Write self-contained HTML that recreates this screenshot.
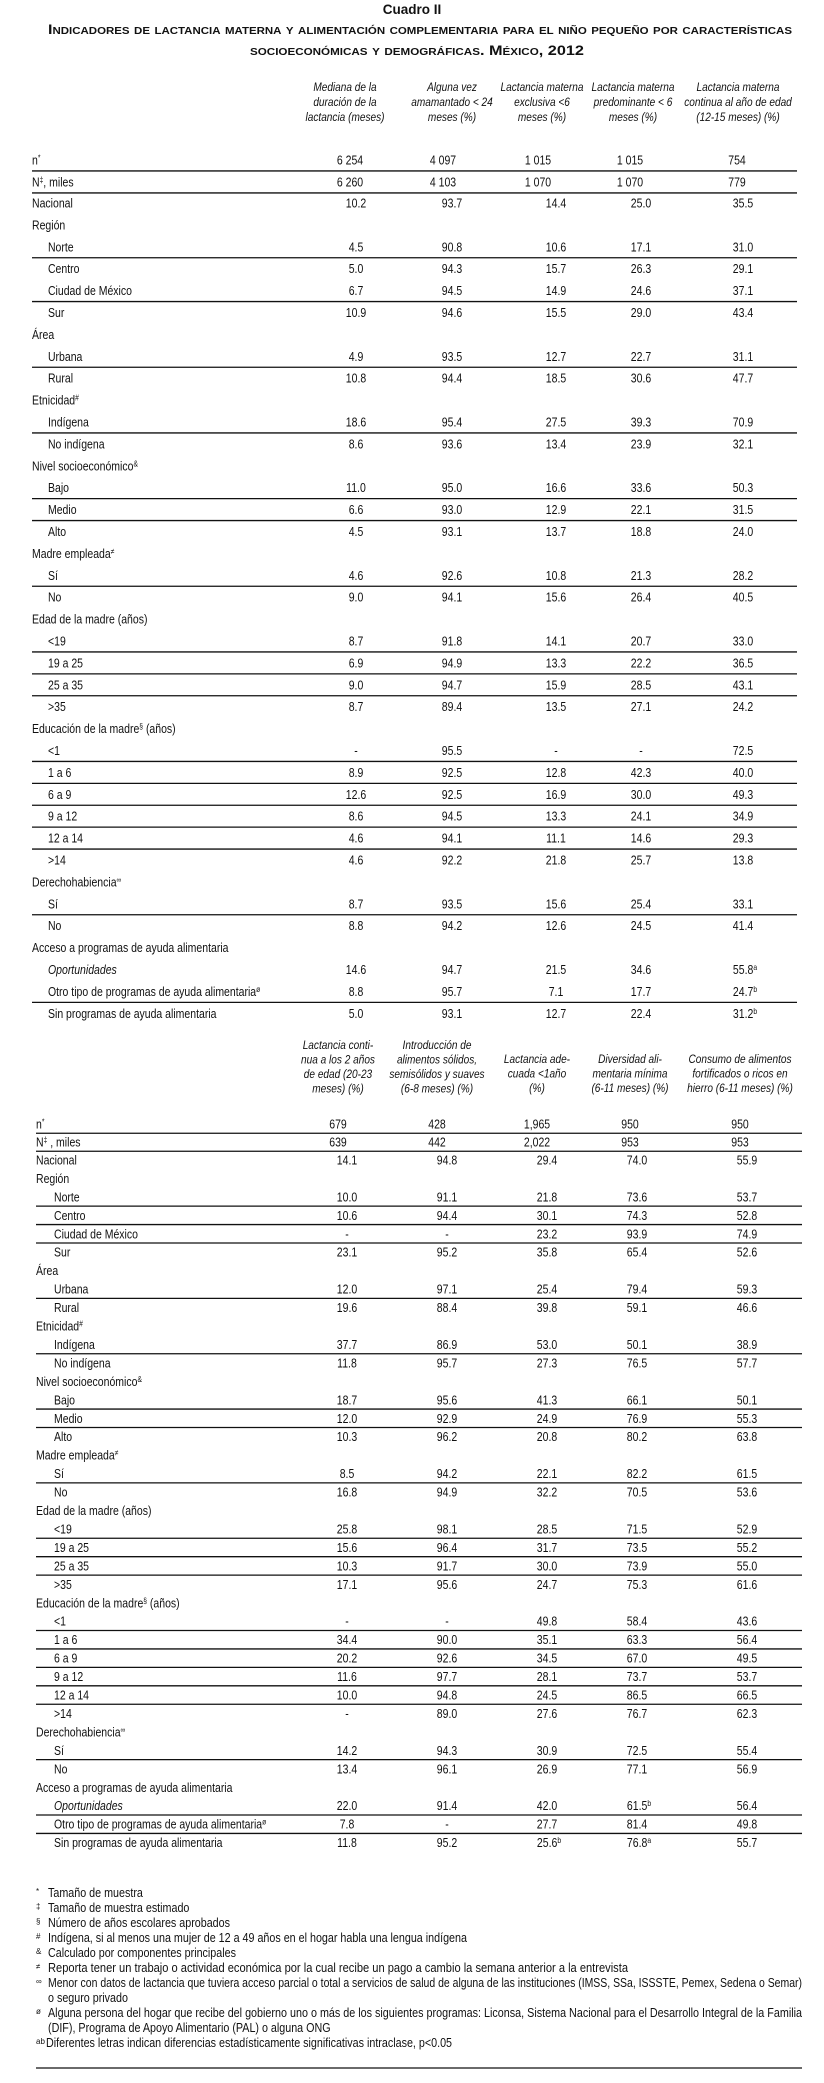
<!DOCTYPE html>
<html><head><meta charset="utf-8">
<style>
html,body{margin:0;padding:0;background:#fff;}
svg{display:block;}
text{font-family:"Liberation Sans",sans-serif;fill:#111;}
.b{font-size:12.5px;}
.h{font-size:12px;font-style:italic;}
.f{font-size:12.5px;}
</style></head>
<body>
<svg id="page" width="824" height="2083" viewBox="0 0 824 2083" xmlns="http://www.w3.org/2000/svg">
<text x="412" y="14" text-anchor="middle" font-size="13.5" font-weight="bold">Cuadro II</text>
<text x="420" y="34" text-anchor="middle" font-size="14" font-weight="bold" style="font-variant:small-caps" textLength="744" lengthAdjust="spacingAndGlyphs">Indicadores de lactancia materna y alimentación complementaria para el niño pequeño por características</text>
<text x="417" y="55" text-anchor="middle" font-size="14" font-weight="bold" style="font-variant:small-caps" textLength="334" lengthAdjust="spacingAndGlyphs">socioeconómicas y demográficas. México, 2012</text>
<g id="t1"></g>
<g id="t2"></g>
<g id="fn"></g>
<line x1="36" y1="2068" x2="802" y2="2068" stroke="#111" stroke-width="1.3"/>
</svg>
<script>
const NS="http://www.w3.org/2000/svg";
const t1Headers=[["Mediana de la","duración de la","lactancia (meses)"],["Alguna vez","amamantado < 24","meses (%)"],["Lactancia materna","exclusiva <6","meses (%)"],["Lactancia materna","predominante < 6","meses (%)"],["Lactancia materna","continua al año de edad","(12-15 meses) (%)"]];
const t2Headers=[["Lactancia conti-","nua a los 2 años","de edad (20-23","meses) (%)"],["Introducción de","alimentos sólidos,","semisólidos y suaves","(6-8 meses) (%)"],["Lactancia ade-","cuada <1año","(%)"],["Diversidad ali-","mentaria mínima","(6-11 meses) (%)"],["Consumo de alimentos","fortificados o ricos en","hierro (6-11 meses) (%)"]];
const t1Rows=[
["n","*",0,1,["6 254","4 097","1 015","1 015","754"]],
["N","‡, miles",0,1,["6 260","4 103","1 070","1 070","779"]],
["Nacional","",0,0,["10.2","93.7","14.4","25.0","35.5"]],
["Región","",1,0,null],
["Norte","",2,1,["4.5","90.8","10.6","17.1","31.0"]],
["Centro","",2,0,["5.0","94.3","15.7","26.3","29.1"]],
["Ciudad de México","",2,1,["6.7","94.5","14.9","24.6","37.1"]],
["Sur","",2,0,["10.9","94.6","15.5","29.0","43.4"]],
["Área","",1,0,null],
["Urbana","",2,1,["4.9","93.5","12.7","22.7","31.1"]],
["Rural","",2,0,["10.8","94.4","18.5","30.6","47.7"]],
["Etnicidad","#",1,0,null],
["Indígena","",2,1,["18.6","95.4","27.5","39.3","70.9"]],
["No indígena","",2,0,["8.6","93.6","13.4","23.9","32.1"]],
["Nivel socioeconómico","&",1,0,null],
["Bajo","",2,1,["11.0","95.0","16.6","33.6","50.3"]],
["Medio","",2,1,["6.6","93.0","12.9","22.1","31.5"]],
["Alto","",2,0,["4.5","93.1","13.7","18.8","24.0"]],
["Madre empleada","≠",1,0,null],
["Sí","",2,1,["4.6","92.6","10.8","21.3","28.2"]],
["No","",2,0,["9.0","94.1","15.6","26.4","40.5"]],
["Edad de la madre (años)","",1,0,null],
["<19","",2,1,["8.7","91.8","14.1","20.7","33.0"]],
["19 a 25","",2,1,["6.9","94.9","13.3","22.2","36.5"]],
["25 a 35","",2,1,["9.0","94.7","15.9","28.5","43.1"]],
[">35","",2,0,["8.7","89.4","13.5","27.1","24.2"]],
["Educación de la madre§ (años)","",1,0,null],
["<1","",2,1,["-","95.5","-","-","72.5"]],
["1 a 6","",2,1,["8.9","92.5","12.8","42.3","40.0"]],
["6 a 9","",2,1,["12.6","92.5","16.9","30.0","49.3"]],
["9 a 12","",2,1,["8.6","94.5","13.3","24.1","34.9"]],
["12 a 14","",2,1,["4.6","94.1","11.1","14.6","29.3"]],
[">14","",2,0,["4.6","92.2","21.8","25.7","13.8"]],
["Derechohabiencia","∞",1,0,null],
["Sí","",2,1,["8.7","93.5","15.6","25.4","33.1"]],
["No","",2,0,["8.8","94.2","12.6","24.5","41.4"]],
["Acceso a programas de ayuda alimentaria","",1,0,null],
["Oportunidades","",3,0,["14.6","94.7","21.5","34.6","55.8ª"]],
["Otro tipo de programas de ayuda alimentaria","ø",2,1,["8.8","95.7","7.1","17.7","24.7ᵇ"]],
["Sin programas de ayuda alimentaria","",2,0,["5.0","93.1","12.7","22.4","31.2ᵇ"]]
];
const t2Rows=[
["n","*",0,1,["679","428","1,965","950","950"]],
["N","‡ , miles",0,1,["639","442","2,022","953","953"]],
["Nacional","",0,0,["14.1","94.8","29.4","74.0","55.9"]],
["Región","",1,0,null],
["Norte","",2,1,["10.0","91.1","21.8","73.6","53.7"]],
["Centro","",2,1,["10.6","94.4","30.1","74.3","52.8"]],
["Ciudad de México","",2,1,["-","-","23.2","93.9","74.9"]],
["Sur","",2,0,["23.1","95.2","35.8","65.4","52.6"]],
["Área","",1,0,null],
["Urbana","",2,1,["12.0","97.1","25.4","79.4","59.3"]],
["Rural","",2,0,["19.6","88.4","39.8","59.1","46.6"]],
["Etnicidad","#",1,0,null],
["Indígena","",2,1,["37.7","86.9","53.0","50.1","38.9"]],
["No indígena","",2,0,["11.8","95.7","27.3","76.5","57.7"]],
["Nivel socioeconómico","&",1,0,null],
["Bajo","",2,1,["18.7","95.6","41.3","66.1","50.1"]],
["Medio","",2,1,["12.0","92.9","24.9","76.9","55.3"]],
["Alto","",2,0,["10.3","96.2","20.8","80.2","63.8"]],
["Madre empleada","≠",1,0,null],
["Sí","",2,1,["8.5","94.2","22.1","82.2","61.5"]],
["No","",2,0,["16.8","94.9","32.2","70.5","53.6"]],
["Edad de la madre (años)","",1,0,null],
["<19","",2,1,["25.8","98.1","28.5","71.5","52.9"]],
["19 a 25","",2,1,["15.6","96.4","31.7","73.5","55.2"]],
["25 a 35","",2,1,["10.3","91.7","30.0","73.9","55.0"]],
[">35","",2,0,["17.1","95.6","24.7","75.3","61.6"]],
["Educación de la madre§ (años)","",1,0,null],
["<1","",2,1,["-","-","49.8","58.4","43.6"]],
["1 a 6","",2,1,["34.4","90.0","35.1","63.3","56.4"]],
["6 a 9","",2,1,["20.2","92.6","34.5","67.0","49.5"]],
["9 a 12","",2,1,["11.6","97.7","28.1","73.7","53.7"]],
["12 a 14","",2,1,["10.0","94.8","24.5","86.5","66.5"]],
[">14","",2,0,["-","89.0","27.6","76.7","62.3"]],
["Derechohabiencia","∞",1,0,null],
["Sí","",2,1,["14.2","94.3","30.9","72.5","55.4"]],
["No","",2,0,["13.4","96.1","26.9","77.1","56.9"]],
["Acceso a programas de ayuda alimentaria","",1,0,null],
["Oportunidades","",3,1,["22.0","91.4","42.0","61.5ᵇ","56.4"]],
["Otro tipo de programas de ayuda alimentaria","ø",2,1,["7.8","-","27.7","81.4","49.8"]],
["Sin programas de ayuda alimentaria","",2,0,["11.8","95.2","25.6ᵇ","76.8ª","55.7"]]
];
const footSyms=["*","‡","§","#","&","≠","∞","","ø","","ab"];
const footTexts=["Tamaño de muestra","Tamaño de muestra estimado","Número de años escolares aprobados","Indígena, si al menos una mujer de 12 a 49 años en el hogar habla una lengua indígena","Calculado por componentes principales","Reporta tener un trabajo o actividad económica por la cual recibe un pago a cambio la semana anterior a la entrevista","Menor con datos de lactancia que tuviera acceso parcial o total a servicios de salud de alguna de las instituciones (IMSS, SSa, ISSSTE, Pemex, Sedena o Semar)","o seguro privado","Alguna persona del hogar que recibe del gobierno uno o más de los siguientes programas: Liconsa, Sistema Nacional para el Desarrollo Integral de la Familia","(DIF), Programa de Apoyo Alimentario (PAL) o alguna ONG","Diferentes letras indican diferencias estadísticamente significativas intraclase, p<0.05"];

function mk(tag,attrs,parent){const e=document.createElementNS(NS,tag);for(const k in attrs)e.setAttribute(k,attrs[k]);parent.appendChild(e);return e;}
function squeeze(t,s){const x=parseFloat(t.getAttribute('x'));t.setAttribute('transform','matrix('+s+',0,0,1,'+(x*(1-s))+',0)');}

function drawTable(g,headers,rows,cfg){
  headers.forEach((lines,ci)=>{
    const y0=cfg.hY[ci];
    lines.forEach((ln,li)=>{
      const t=mk('text',{x:cfg.hX[ci],y:y0+li*cfg.hGap,'text-anchor':'middle',class:'h'},g);
      
      
      t.textContent=ln;
      squeeze(t,0.84);
    });
  });
  rows.forEach((r,i)=>{
    let yc;
    if(i<3) yc=cfg.topY[i]; else yc=cfg.topY[2]+(i-2)*cfg.pitch;
    const [label,sup,type,lineAfter,vals]=r;
    const lx=(type>=2)?cfg.indX:cfg.labX;
    const t=mk('text',{x:lx,y:yc+4.5,class:'b'},g);
    
    
    if(type===3)t.setAttribute('font-style','italic');
    const m=label.match(/^(.*?)(§)(.*)$/);
    if(m){t.appendChild(document.createTextNode(m[1]));const s=mk('tspan',{'font-size':'8','dy':'-4'},t);s.textContent='§';const s2=mk('tspan',{'dy':'4'},t);s2.textContent=m[3];}
    else{t.appendChild(document.createTextNode(label));
      if(sup){
        if(sup.indexOf('miles')>=0){const s=mk('tspan',{'font-size':'8','dy':'-4'},t);s.textContent=sup.charAt(0);const s2=mk('tspan',{'dy':'4'},t);s2.textContent=sup.slice(1);}
        else{const s=mk('tspan',{'font-size':'8','dy':'-4'},t);s.textContent=sup;}
      }}
    squeeze(t,0.84);
    if(vals){
      vals.forEach((v,ci)=>{
        const cx=(i<2)?cfg.nX[ci]:cfg.vX[ci];
        const supM=v.match(/^(.*?)([ªᵇ])$/);
        const tv=mk('text',{x:cx,y:yc+4.5,'text-anchor':'middle',class:'b'},g);
        
        
        if(supM){tv.appendChild(document.createTextNode(supM[1]));const s=mk('tspan',{'font-size':'8','dy':'-4'},tv);s.textContent=supM[2]==='ª'?'a':'b';tv.setAttribute('x',cx+2);}
        else tv.textContent=v;
        squeeze(tv,0.84);
      });
    }
    if(lineAfter){
      const l=mk('line',{x1:cfg.lx1,x2:cfg.lx2,y1:yc+cfg.pitch/2,y2:yc+cfg.pitch/2,stroke:'#111','stroke-width':'1.3'},g);
      
      
    }
  });
}
drawTable(document.getElementById('t1'),t1Headers,t1Rows,{
  hX:[345,452,542,633,738],hY:[91,91,91,91,91],hGap:15,
  topY:[160,182,203],pitch:21.9,labX:32,indX:48,
  nX:[350,443,538,630,737],vX:[356,452,556,641,743],lx1:32,lx2:797});
drawTable(document.getElementById('t2'),t2Headers,t2Rows,{
  hX:[338,437,537,630,740],hY:[1049,1049,1063,1063,1063],hGap:14.5,
  topY:[1124,1142,1160],pitch:18.45,labX:36,indX:54,
  nX:[338,437,537,630,740],vX:[347,447,547,637,747],lx1:36,lx2:802});

const fg=document.getElementById('fn');
footTexts.forEach((tx,i)=>{
  const y=1897+i*15;
  if(footSyms[i]){const s=mk('text',{x:36,y:y-3,'font-size':'8'},fg);
    
    
    s.textContent=footSyms[i];}
  const t=mk('text',{x:footSyms[i]==='ab'?46:48,y:y,class:'f'},fg);
  
  
  t.textContent=tx;
  if(i===6||i===8){t.setAttribute('textLength','754');t.setAttribute('lengthAdjust','spacingAndGlyphs');}
  else if(i===5){t.setAttribute('textLength','580');t.setAttribute('lengthAdjust','spacingAndGlyphs');}
  else squeeze(t,0.86);
});
</script>
</body></html>
